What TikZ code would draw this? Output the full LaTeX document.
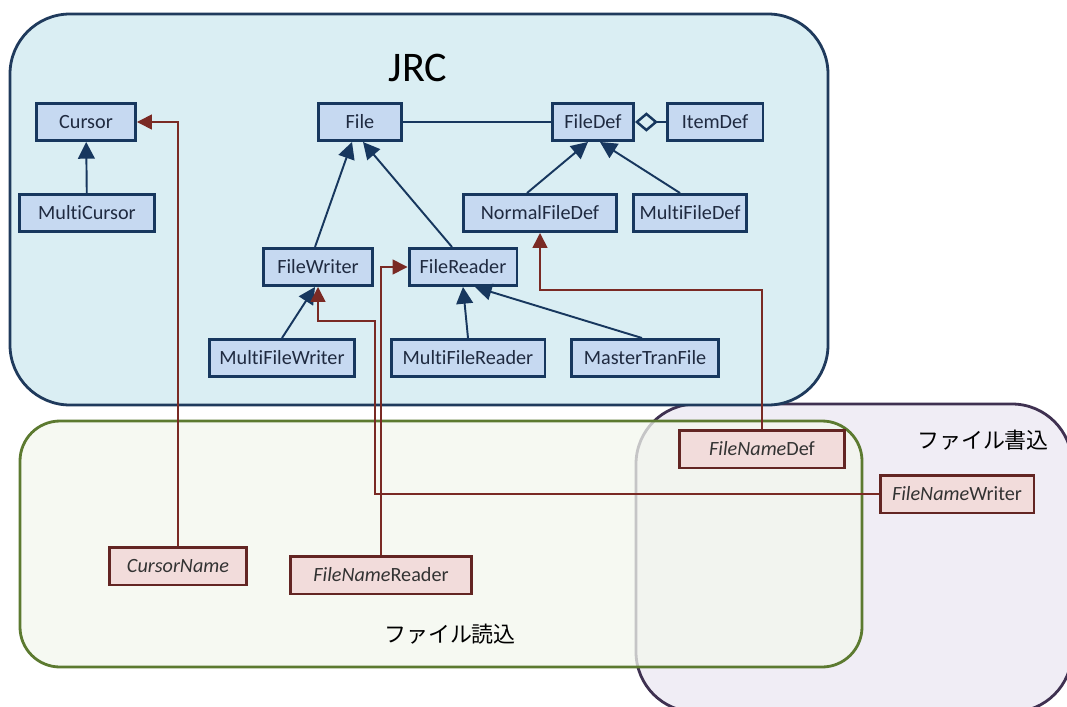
\documentclass[tikz,border=0pt]{standalone}
\usepackage{fontspec}
\setmainfont[Ligatures=NoCommon]{Carlito}
\newfontfamily\jpfont{Noto Sans CJK JP}
\usetikzlibrary{
    arrows.meta
}

\definecolor{jrcfill}{HTML}{DAEEF3}
\definecolor{jrcline}{HTML}{1F3A5C}
\definecolor{clsfill}{HTML}{C6D9F1}
\definecolor{clsline}{HTML}{17375E}
\definecolor{clstext}{HTML}{1F2A40}
\definecolor{nmfill}{HTML}{F2DCDB}
\definecolor{nmline}{HTML}{632523}
\definecolor{useline}{HTML}{7A2A24}
\definecolor{rdfill}{HTML}{F3F7EE}
\definecolor{rdline}{HTML}{5C7A30}
\definecolor{wrfill}{HTML}{F0EDF5}
\definecolor{wrline}{HTML}{3F3151}

\tikzset{
    area/.style={line width=1.6pt},
    cls/.style={draw=clsline, fill=clsfill, line width=1.7pt, minimum height=0.74cm,
        inner sep=2pt, text=clstext, font=\fontsize{11.5}{13}\selectfont},
    nm/.style={draw=nmline, fill=nmfill, line width=1.7pt, minimum height=0.76cm,
        inner sep=2pt, text=black!80, font=\fontsize{11.5}{13}\selectfont},
    inherit/.style={draw=clsline, line width=1.1pt, -{Triangle[length=9.5pt,width=9.5pt]}},
    use/.style={draw=useline, line width=0.9pt, -{Triangle[length=8.5pt,width=8.5pt]}}
}

\begin{document}
\begin{tikzpicture}[x=0.02cm, y=-0.02cm]
    \useasboundingbox (0,0) rectangle (1067,706);
    \clip (0,0) rectangle (1067,706);

    % areas
    \draw[area, draw=wrline, fill=wrfill, rounded corners=1.2cm] (636,404) rectangle (1072,712);
    \draw[area, draw=rdline, fill=rdfill, fill opacity=0.75, rounded corners=0.8cm] (20,421) rectangle (862,667);
    \draw[area, draw=jrcline, fill=jrcfill, rounded corners=1.2cm] (10,14) rectangle (828,405);

    \node (jrc) at (418,68) {\fontsize{24}{28}\selectfont JRC};
    \node (wrlabel) at (983,440) {\jpfont\fontsize{12.5}{15}\selectfont ファイル書込};
    \node (rdlabel) at (450,634) {\jpfont\fontsize{12.5}{15}\selectfont ファイル読込};

    % classes
    \node[cls, minimum width=1.98cm] (cur) at (86,122) {Cursor};
    \node[cls, minimum width=2.72cm] (mcur) at (87,213) {MultiCursor};
    \node[cls, minimum width=1.66cm] (file) at (360,122) {File};
    \node[cls, minimum width=1.62cm] (fdef) at (593,122) {FileDef};
    \node[cls, minimum width=1.92cm] (idef) at (715,122) {ItemDef};
    \node[cls, minimum width=3.06cm] (nfd) at (540,213) {NormalFileDef};
    \node[cls, minimum width=2.26cm] (mfd) at (690,213) {MultiFileDef};
    \node[cls, minimum width=2.18cm] (fw) at (318,267) {FileWriter};
    \node[cls, minimum width=2.16cm] (fr) at (463,267) {FileReader};
    \node[cls, minimum width=2.92cm] (mfw) at (282,358) {MultiFileWriter};
    \node[cls, minimum width=3.08cm] (mfr) at (468,358) {MultiFileReader};
    \node[cls, minimum width=2.94cm] (mtf) at (645,358) {MasterTranFile};

    % names
    \node[nm, minimum width=3.30cm] (fnd) at (762,449) {\textit{FileName}Def};
    \node[nm, minimum width=3.08cm] (fnw) at (957,494) {\textit{FileName}Writer};
    \node[nm, minimum width=2.76cm] (cname) at (178,566) {\textit{CursorName}};
    \node[nm, minimum width=3.64cm] (fnr) at (381,575) {\textit{FileName}Reader};

    % inheritance
    \draw[inherit] (mcur) -- (cur);
    \draw[inherit] ([xshift=-0.06cm]fw.north) -- ([xshift=-0.16cm]file.south);
    \draw[inherit] ([xshift=-0.22cm]fr.north) -- ([xshift=0.06cm]file.south);
    \draw[inherit] ([xshift=-0.26cm]nfd.north) -- ([xshift=-0.1cm]fdef.south);
    \draw[inherit] ([xshift=-0.2cm]mfd.north) -- ([xshift=0.14cm]fdef.south);
    \draw[inherit] (mfw.north) -- ([xshift=-0.06cm]fw.south);
    \draw[inherit] (mfr.north) -- (fr.south);
    \draw[inherit] ([xshift=-0.06cm]mtf.north) -- ([xshift=0.24cm]fr.south);
    \draw[draw=clsline, line width=1.1pt] (file) -- (fdef);
    \draw[draw=clsline, line width=1.4pt, -{Diamond[open,length=13pt,width=11pt]}] (idef) -- (fdef);

    % usage
    \coordinate (wbend) at (375,321);
    \coordinate (dbend) at (540,290);
    \draw[use] (cname.north) |- (cur.east);
    \draw[use] (fnr.north) |- (fr.west);
    \draw[use] (fnw.west) -| (wbend) -| (fw.south);
    \draw[use] (fnd.north) |- (dbend) -- (nfd.south);
\end{tikzpicture}
\end{document}
